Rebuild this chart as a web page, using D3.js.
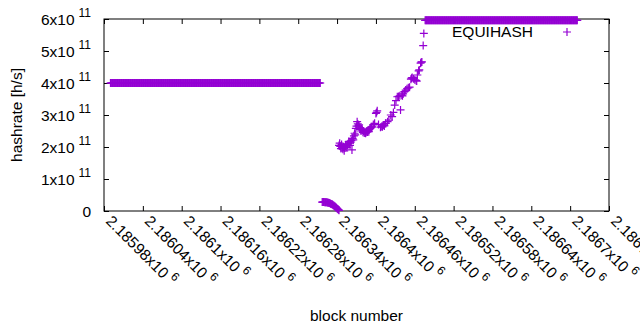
<!DOCTYPE html>
<html>
<head>
<meta charset="utf-8">
<script src="https://cdn.jsdelivr.net/npm/d3@7"></script>
<style>
  body { margin: 0; background: #fff; }
  text { font-family: "Liberation Sans", Arial, sans-serif; fill: #000; }
</style>
</head>
<body>
<div id="plot"></div>
<script>
// Chart size
const width = 640;
const height = 330;
const margin = { top: 19, right: 31, bottom: 119, left: 104 };

// Axis ticks
const xTicks = [2185980, 2186040, 2186100, 2186160, 2186220, 2186280, 2186340,
  2186400, 2186460, 2186520, 2186580, 2186640, 2186700, 2186760];
const yTicks = [0, 1e11, 2e11, 3e11, 4e11, 5e11, 6e11];

// Long constant runs (first block, last block, hashrate)
const runStarts = [2185990, 2186476];
const runEnds = [2186314, 2186711];
const runValues = [4.0e11, 5.96e11];

// Short drop right after the first run, one value per block
const dropFirstBlock = 2186317;
const dropValues = [2.8e10, 2.8e10, 2.8e10, 2.8e10, 2.75e10, 2.75e10, 2.7e10, 2.7e10,
  2.65e10, 2.6e10, 2.6e10, 2.5e10, 2.4e10, 2.3e10, 2.2e10, 2.1e10, 2.0e10, 1.8e10,
  1.7e10, 1.5e10, 1.4e10, 1.2e10, 1.0e10, 0.8e10, 0.6e10, 0.4e10, 0.2e10];

// Noisy climb between the two runs
const scatterBlocks = [2186343, 2186344, 2186345, 2186346, 2186347, 2186348, 2186349, 2186350,
  2186351, 2186352, 2186353, 2186354, 2186355, 2186356, 2186357, 2186358, 2186359, 2186360,
  2186361, 2186362, 2186363, 2186364, 2186365, 2186366, 2186367, 2186368, 2186369, 2186370,
  2186371, 2186372, 2186373, 2186374, 2186375, 2186376, 2186377, 2186378, 2186379, 2186380,
  2186381, 2186382, 2186383, 2186384, 2186385, 2186386, 2186387, 2186388, 2186389, 2186390,
  2186391, 2186392, 2186393, 2186394, 2186396, 2186398, 2186400, 2186401, 2186402, 2186404,
  2186407, 2186409, 2186410, 2186411, 2186412, 2186413, 2186415, 2186418, 2186420, 2186423,
  2186425, 2186427, 2186429, 2186431, 2186433, 2186435, 2186437, 2186438, 2186440, 2186441,
  2186442, 2186444, 2186446, 2186448, 2186450, 2186452, 2186454, 2186455, 2186456, 2186458,
  2186460, 2186462, 2186463, 2186464, 2186466, 2186467, 2186469, 2186470, 2186471, 2186473,
  2186474];
const scatterValues = [2.05, 2.12, 2.02, 1.95, 2.08, 1.98, 1.93, 2.00,
  1.88, 1.97, 2.03, 2.08, 1.99, 2.04, 2.10, 2.17, 2.12, 2.05,
  2.15, 2.20, 1.91, 2.27, 2.22, 2.35, 2.43, 2.38, 2.58, 2.65,
  2.79, 2.72, 2.66, 2.69, 2.60, 2.55, 2.50, 2.56, 2.53, 2.46,
  2.50, 2.44, 2.48, 2.43, 2.46, 2.50, 2.47, 2.52, 2.48, 2.55,
  2.58, 2.60, 2.62, 2.63, 2.70, 2.74, 3.05, 3.08, 3.13, 2.70,
  2.62, 2.64, 2.63, 2.68, 2.69, 2.66, 2.74, 2.79, 2.84, 3.00,
  2.95, 3.08, 3.31, 3.45, 3.57, 3.58, 3.60, 3.16, 3.62, 3.60,
  3.66, 3.73, 3.78, 3.82, 3.85, 3.87, 4.12, 4.15, 4.17, 4.13,
  4.10, 4.08, 4.06, 4.25, 4.38, 4.41, 4.62, 4.65, 4.66, 5.17,
  5.55].map(v => v * 1e11);

// Build point list
const points = [];
runStarts.forEach((s, i) => {
  for (let b = s; b <= runEnds[i]; b++) points.push([b, runValues[i]]);
});
dropValues.forEach((v, i) => points.push([dropFirstBlock + i, v]));
scatterBlocks.forEach((b, i) => points.push([b, scatterValues[i]]));

const color = "#9400d3";
const fontSize = 15.5;

const svg = d3.select("#plot")
  .append("svg")
  .attr("width", width)
  .attr("height", height);

svg.append("rect").attr("width", width).attr("height", height).attr("fill", "#fff");

const x = d3.scaleLinear()
  .domain([xTicks[0], xTicks[xTicks.length - 1]])
  .range([margin.left, width - margin.right]);

const y = d3.scaleLinear()
  .domain([0, 6e11])
  .range([height - margin.bottom, margin.top]);

// Ticks (inward, mirrored)
const tickLen = 5;
svg.append("g")
  .attr("transform", `translate(0,${y(0)})`)
  .call(d3.axisBottom(x).tickValues(xTicks).tickSize(-tickLen).tickFormat("").tickSizeOuter(0));
svg.append("g")
  .attr("transform", `translate(0,${y(6e11)})`)
  .call(d3.axisTop(x).tickValues(xTicks).tickSize(-tickLen).tickFormat("").tickSizeOuter(0));
svg.append("g")
  .attr("transform", `translate(${x.range()[0]},0)`)
  .call(d3.axisLeft(y).tickValues(yTicks).tickSize(-tickLen).tickFormat("").tickSizeOuter(0));
svg.append("g")
  .attr("transform", `translate(${x.range()[1]},0)`)
  .call(d3.axisRight(y).tickValues(yTicks).tickSize(-tickLen).tickFormat("").tickSizeOuter(0));
svg.selectAll(".domain").remove();
svg.selectAll(".tick line").attr("stroke", "#000");

// Border
svg.append("rect")
  .attr("x", x.range()[0])
  .attr("y", y(6e11))
  .attr("width", x.range()[1] - x.range()[0])
  .attr("height", y(0) - y(6e11))
  .attr("fill", "none")
  .attr("stroke", "#000");

// Y tick labels
const yLab = svg.append("g");
yTicks.forEach(v => {
  const t = yLab.append("text")
    .attr("x", 91)
    .attr("y", y(v) + 5.5)
    .attr("text-anchor", "end")
    .style("font-size", fontSize + "px");
  if (v === 0) {
    t.text("0");
  } else {
    t.append("tspan").text(`${v / 1e11}x10`);
    t.append("tspan").attr("dx", 4).attr("dy", -8).style("font-size", "12px").text("11");
  }
});

// X tick labels (rotated)
xTicks.forEach(v => {
  const t = svg.append("text")
    .attr("transform", `translate(${x(v) + 1},${y(0) + 11}) rotate(45)`)
    .style("font-size", fontSize + "px");
  t.append("tspan").text(`${+(v / 1e6).toFixed(5)}x10`);
  t.append("tspan").attr("dx", 4).attr("dy", -7).style("font-size", "12px").text("6");
});

// Axis titles
svg.append("text")
  .attr("transform", `translate(22,${(y(0) + y(6e11)) / 2}) rotate(-90)`)
  .attr("text-anchor", "middle")
  .style("font-size", fontSize + "px")
  .text("hashrate [h/s]");

svg.append("text")
  .attr("x", (x.range()[0] + x.range()[1]) / 2)
  .attr("y", 321)
  .attr("text-anchor", "middle")
  .style("font-size", fontSize + "px")
  .text("block number");

// Points
const plus = "M-4,0H4M0,-4V4";
svg.append("g")
  .selectAll("path")
  .data(points)
  .enter().append("path")
  .attr("d", plus)
  .attr("transform", d => `translate(${x(d[0])},${y(d[1])})`)
  .attr("stroke", color)
  .attr("stroke-width", 1.2)
  .attr("fill", "none");

// Legend
svg.append("text")
  .attr("x", 533)
  .attr("y", 37)
  .attr("text-anchor", "end")
  .style("font-size", fontSize + "px")
  .text("EQUIHASH");
svg.append("path")
  .attr("d", plus)
  .attr("transform", "translate(567,32)")
  .attr("stroke", color)
  .attr("stroke-width", 1.2)
  .attr("fill", "none");
</script>
</body>
</html>
